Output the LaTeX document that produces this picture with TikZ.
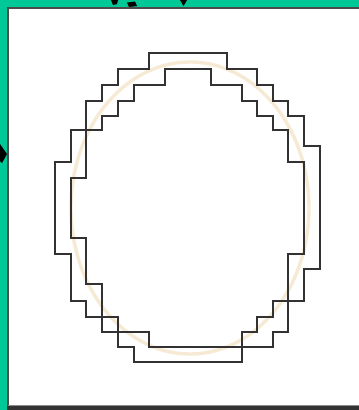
\documentclass[tikz,border=0pt]{standalone}
\usetikzlibrary{calc}
\definecolor{bggreen}{RGB}{0,200,150}
\definecolor{beige}{RGB}{246,234,212}
\definecolor{stairline}{RGB}{50,50,50}
\tikzset{
  stair/.style={draw=stairline, line width=1.1pt, line join=miter},
  guide/.style={draw=beige, line width=3.4pt},
  blackbit/.style={fill=black, draw=none},
}
\begin{document}
\begin{tikzpicture}[x=1pt,y=-1pt]
\useasboundingbox (0,0) rectangle (359,410);
% background
\fill[bggreen] (0,0) rectangle (359,410);
% panel
\fill[black!80] (7,406) rectangle (359,410);
\fill[white] (8,8) rectangle (362,406);
\draw[black!70, line width=1.6pt] (8,406) -- (8,8) -- (362,8);
\draw[black!45, line width=1pt] (8,405.5) -- (359,405.5);
% ellipse guide
\draw[guide] (190,208) ellipse [x radius=119, y radius=146];
% outer staircase
\draw[stair] (149,53) -- (227,53) -- (227,69) -- (257,69) -- (257,85) -- (273,85) -- (273,101) -- (288,101) -- (288,116) -- (304,116) -- (304,146) -- (320,146) -- (320,269) -- (304,269) -- (304,301) -- (273,301) -- (273,317) -- (257,317) -- (257,332) -- (242,332) -- (242,362) -- (134,362) -- (134,347) -- (118,347) -- (118,332) -- (102,332) -- (102,317) -- (86,317) -- (86,301) -- (71,301) -- (71,254) -- (55,254) -- (55,162) -- (71,162) -- (71,130) -- (86,130) -- (86,101) -- (102,101) -- (102,85) -- (118,85) -- (118,69) -- (149,69) -- cycle;
% inner staircase
\draw[stair] (165,69) -- (211,69) -- (211,85) -- (242,85) -- (242,101) -- (257,101) -- (257,116) -- (273,116) -- (273,130) -- (288,130) -- (288,162) -- (304,162) -- (304,254) -- (288,254) -- (288,332) -- (273,332) -- (273,347) -- (149,347) -- (149,332) -- (118,332) -- (118,317) -- (102,317) -- (102,284) -- (86,284) -- (86,238) -- (71,238) -- (71,178) -- (86,178) -- (86,130) -- (102,130) -- (102,116) -- (118,116) -- (118,101) -- (134,101) -- (134,85) -- (165,85) -- cycle;
% clipped marks from outside
\fill[blackbit] (111,0) -- (118,0) -- (117,4) -- (113,5) -- cycle;
\fill[blackbit] (127,2.5) -- (135,1.5) -- (137,6) -- (129,7) -- cycle;
\fill[blackbit] (180,0) -- (187,0) -- (183.5,6) -- cycle;
\fill[blackbit] (0,144) -- (7,154) -- (2,163) -- (0,161) -- cycle;
\end{tikzpicture}
\end{document}
